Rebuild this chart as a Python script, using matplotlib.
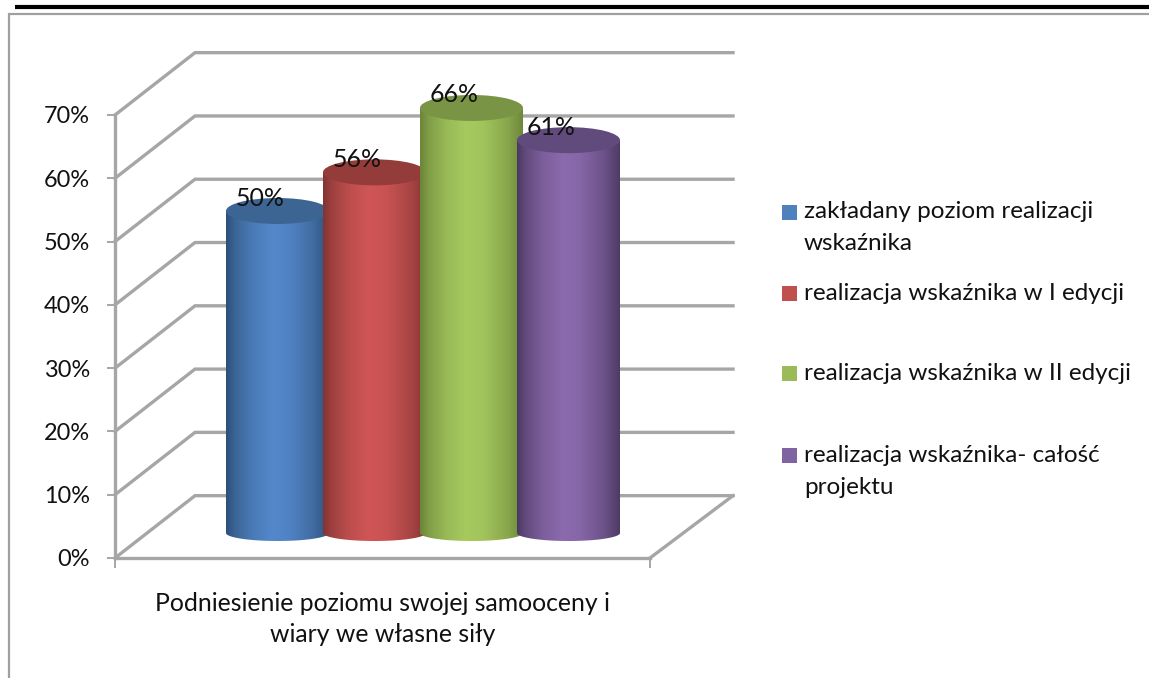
import numpy as np
import matplotlib
matplotlib.use("Agg")
import matplotlib.pyplot as plt
from matplotlib.patches import Ellipse, Polygon, Rectangle

plt.rcParams['font.family'] = ['Lato', 'DejaVu Sans']

# --- data ---
series_names = ["zakładany poziom realizacji\nwskaźnika",
                "realizacja wskaźnika w I edycji",
                "realizacja wskaźnika w II edycji",
                "realizacja wskaźnika- całość\nprojektu"]
values = [50, 56, 66, 61]
category = "Podniesienie poziomu swojej samooceny i\nwiary we własne siły"
y_ticks = [0, 10, 20, 30, 40, 50, 60, 70]

# --- style ---
centre_col = ["#5488cb", "#d05656", "#a7ca5f", "#8b6bae"]
edge_col = ["#2c5078", "#833333", "#6b8539", "#4c3863"]
top_col = ["#3c6594", "#943c3a", "#7a9445", "#614a7c"]
legend_col = ["#4f81bd", "#c0504d", "#9bbb59", "#8064a2"]
GRID = "#a6a6a6"
W, H = 1149, 678
FS_TICK = 16.9
FS_LABEL = 17.9
FS_LEGEND = 17.5
FS_CAT = 17.8

fig = plt.figure(figsize=(W / 100, H / 100), dpi=100, facecolor="white")


def axes_px(l, r, top, bottom, **kw):
    return fig.add_axes([l / W, 1 - bottom / H, (r - l) / W, (bottom - top) / H], **kw)


# page furniture in pixel coordinates
ax_px = axes_px(0, W, 0, H)
ax_px.set_xlim(0, W)
ax_px.set_ylim(H, 0)
ax_px.axis("off")
ax_px.plot([15, W], [7.3, 7.3], color="#000000", lw=3.0, solid_capstyle="butt")
ax_px.plot([9, 9, W], [H, 13.7, 13.7], color="#a0a0a0", lw=1.6, solid_joinstyle="miter")

# walls: front plane
ax = axes_px(115, 650, 115, 558)
ax.patch.set_alpha(0)
ax.set_xlim(115, 650)
ax.set_ylim(0, 70)
for s in ("top", "right"):
    ax.spines[s].set_visible(False)
for s in ("left", "bottom"):
    ax.spines[s].set_color(GRID)
    ax.spines[s].set_linewidth(2.4)
ax.set_yticks(y_ticks)
ax.set_yticklabels([f"{v}%" for v in y_ticks], fontsize=FS_TICK, color="#111111")
ax.set_xticks([115, 650])
ax.set_xticklabels([])
ax.tick_params(axis="y", length=6, width=1.4, color=GRID, pad=12)
ax.tick_params(axis="x", length=7, width=1.4, color=GRID)

depth_x, depth_y = 80, 9.85
right_back = 733
for v in y_ticks:
    ax.plot([115, 115 + depth_x, right_back], [v, v + depth_y, v + depth_y],
            color=GRID, lw=2.4, clip_on=False, solid_joinstyle="miter")
ax.plot([650, right_back], [0, depth_y], color=GRID, lw=2.4, clip_on=False)

ax.text(382.5, -9.6, category, ha="center", va="center", fontsize=FS_CAT,
        linespacing=1.42, color="#111111")

# cylinders: own plane, midway in depth; a margin below zero keeps the base visible
margin = 3
ax_bar = axes_px(115, 650, 533 - 6.44 * 70, 533 + 6.44 * margin)
ax_bar.patch.set_alpha(0)
ax_bar.set_xlim(115, 650)
ax_bar.set_ylim(-margin, 70)
ax_bar.axis("off")

first_left, step, width = 226, 97, 103
top_ry = 13 / 6.44
bot_ry = 8 / 6.44
stops = [0, 0.08, 0.25, 0.45, 0.62, 0.85, 1]
mix = [0.0, 0.35, 0.75, 1.0, 0.9, 0.5, 0.05]
t = np.linspace(0, 1, 128)
m = np.interp(t, stops, mix)
th = np.linspace(np.pi, 2 * np.pi, 60)

for i, v in enumerate(values):
    left = first_left + i * step
    cx = left + width / 2
    c0 = np.array(matplotlib.colors.to_rgb(edge_col[i]))
    c1 = np.array(matplotlib.colors.to_rgb(centre_col[i]))
    grad = (c0[None, :] * (1 - m[:, None]) + c1[None, :] * m[:, None])[None, :, :]
    pts = np.column_stack([cx + width / 2 * np.cos(th), bot_ry * np.sin(th)])
    pts = np.vstack([[left, v], pts, [left + width, v]])
    body = Polygon(pts, closed=True, facecolor="none", edgecolor="none",
                   transform=ax_bar.transData, zorder=3 + i * 2)
    ax_bar.add_patch(body)
    im = ax_bar.imshow(grad, extent=(left, left + width, -bot_ry, v), aspect="auto",
                       zorder=3 + i * 2, interpolation="bilinear")
    im.set_clip_path(body)
    ax_bar.add_patch(Ellipse((cx, v), width, 2 * top_ry, facecolor=top_col[i],
                             edgecolor="none", zorder=4 + i * 2, clip_on=False))
ax_bar.set_xlim(115, 650)
ax_bar.set_ylim(-margin, 70)

for i, v in enumerate(values):
    cx = first_left + i * step + width / 2
    ax_bar.annotate(f"{v}%", (cx, v), xytext=(-17.5 * 0.72, 13 * 0.72),
                    textcoords="offset points", ha="center", va="center",
                    fontsize=FS_LABEL, color="#111111", zorder=30, annotation_clip=False)

# legend
legend_y = [212, 293, 373, 455]
for name, c, y in zip(series_names, legend_col, legend_y):
    ax_px.add_patch(Rectangle((782, y - 7.5), 15, 15, facecolor=c, edgecolor="none"))
    lines = name.split("\n")
    for k, line in enumerate(lines):
        ax_px.text(804, y + k * 32, line, ha="left", va="center",
                   fontsize=FS_LEGEND, color="#111111")

fig.savefig("out.png", dpi=100)
